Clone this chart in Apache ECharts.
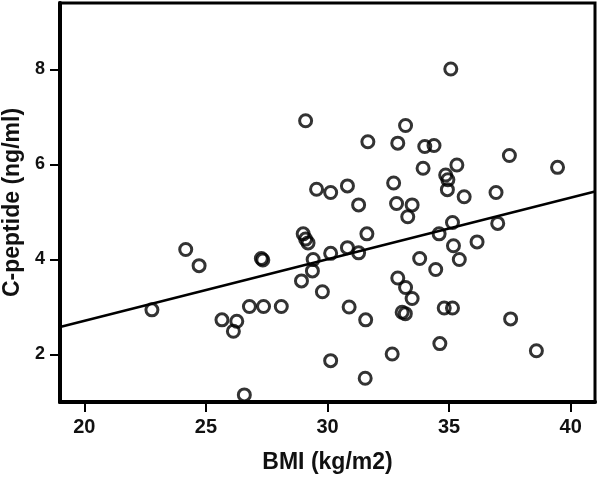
<!DOCTYPE html>
<html>
<head>
<meta charset="utf-8">
<script src="https://cdn.jsdelivr.net/npm/echarts@6/dist/echarts.min.js"></script>
<style>html,body{margin:0;padding:0;background:#fff}#c{width:600px;height:482px}</style>
</head>
<body>
<div id="c"></div>
<script>
var bmi = [22.78,24.17,24.72,27.28,27.34,26.79,27.37,28.1,25.66,26.27,26.13,26.58,
  29.0,29.1,29.2,31.62,29.41,30.13,30.82,31.28,29.38,28.93,29.79,30.89,31.57,31.28,
  29.1,31.66,29.55,30.13,30.82,35.07,33.21,32.89,34.0,34.38,37.48,39.46,33.93,35.32,
  34.86,34.95,34.93,32.72,32.84,33.48,33.3,35.62,36.93,35.14,37.0,34.59,36.15,35.18,
  35.42,33.79,34.45,32.89,33.21,33.48,33.07,33.2,34.8,35.14,30.13,32.66,31.55,34.62,
  37.53,38.59];
var cpeptide = [2.94,4.21,3.87,4.02,3.99,3.01,3.01,3.01,2.73,2.70,2.49,1.15,
  4.54,4.43,4.35,4.54,4.0,4.13,4.25,4.14,3.76,3.55,3.32,3.0,2.73,5.15,
  6.92,6.48,5.48,5.41,5.55,8.01,6.82,6.45,6.38,6.40,6.19,5.94,5.92,5.99,
  5.78,5.68,5.47,5.61,5.18,5.15,4.9,5.32,5.41,4.78,4.76,4.54,4.37,4.29,
  4.0,4.02,3.79,3.61,3.41,3.18,2.89,2.86,2.98,2.98,1.87,2.01,1.5,2.23,
  2.75,2.08];
var fitX = [19, 41];
var fitY = [2.58, 5.43];
var xTicks = [20, 25, 30, 35, 40];
var yTicks = [2, 4, 6, 8];

var pts = bmi.map(function(v, i){ return [v, cpeptide[i]]; });
var fit = fitX.map(function(v, i){ return [v, fitY[i]]; });
var FONT = '"Liberation Sans",Arial,sans-serif';
var chart = echarts.init(document.getElementById('c'), null, {renderer:'canvas'});
chart.setOption({
  animation: false,
  backgroundColor: '#fff',
  grid: {left: 60, top: 3, right: 5, bottom: 80, outerBoundsMode: 'none', containLabel: false,
         show: true, borderColor: '#000', borderWidth: 3, backgroundColor: '#fff'},
  xAxis: {
    type: 'value', min: 19, max: 41,
    name: 'BMI (kg/m2)', nameLocation: 'middle', nameGap: 49,
    nameTextStyle: {fontFamily: FONT, fontWeight: 'bold', fontSize: 23, color: '#111'},
    axisLine: {show: true, onZero: false, lineStyle: {color: '#000', width: 4}},
    axisTick: {show: true, length: 10, lineStyle: {color: '#000', width: 2}, customValues: xTicks},
    axisLabel: {fontFamily: FONT, fontWeight: 'bold', fontSize: 20, color: '#111', margin: 15, customValues: xTicks},
    splitLine: {show: false}
  },
  yAxis: {
    type: 'value', min: 1, max: 9.4,
    name: 'C-peptide (ng/ml)', nameLocation: 'middle', nameGap: 35,
    nameTextStyle: {fontFamily: FONT, fontWeight: 'bold', fontSize: 23, color: '#111'},
    axisLine: {show: true, onZero: false, lineStyle: {color: '#000', width: 4}},
    axisTick: {show: true, length: 10, lineStyle: {color: '#000', width: 2}, customValues: yTicks},
    axisLabel: {fontFamily: FONT, fontWeight: 'bold', fontSize: 18, color: '#111', margin: 15, customValues: yTicks},
    splitLine: {show: false}
  },
  series: [
    {type: 'line', data: fit, symbol: 'none', lineStyle: {color: '#000', width: 2.5}, z: 2},
    {type: 'scatter', data: pts, symbol: 'circle', symbolSize: 12,
     itemStyle: {color: 'rgba(255,255,255,0)', borderColor: '#000', borderWidth: 3}, z: 3}
  ]
});
</script>
</body>
</html>
